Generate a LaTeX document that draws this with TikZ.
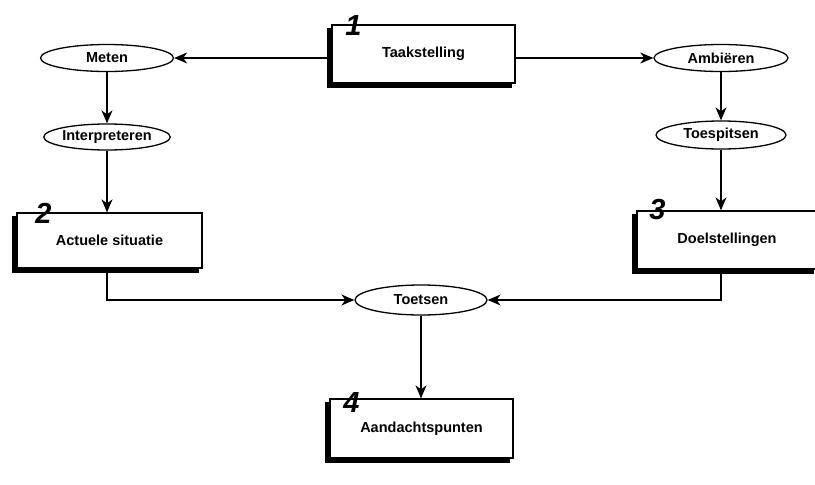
\documentclass[tikz,border=0pt]{standalone}
\usepackage{fontspec}
\setmainfont{Liberation Sans}
\usepackage{tikz}
\usetikzlibrary{arrows.meta,positioning,shapes.geometric,shadows}

\begin{document}
\begin{tikzpicture}[
  x=1pt, y=-1pt,
  stage/.style={rectangle, draw, line width=1.3pt, fill=white, minimum width=183pt, minimum height=58pt, inner sep=0pt,
    font=\fontsize{14.5}{16}\selectfont\bfseries,
    copy shadow={shadow xshift=-4pt, shadow yshift=-4pt, fill=black, draw=black}},
  action/.style={ellipse, draw, line width=1.3pt, fill=white, inner sep=0pt, font=\fontsize{14.5}{16}\selectfont\bfseries},
  stagenum/.style={font=\fontsize{29}{29}\selectfont\itshape\bfseries, inner sep=0pt},
  arrow/.style={-{Stealth[length=13pt, width=11pt, inset=4pt]}, line width=1.3pt}
]
\clip (0,0) rectangle (815,485);
\fill[white] (0,0) rectangle (815,485);

% stages
\node[stage] (task) at (423.5,54) {Taakstelling};
\node[stage, minimum width=185pt, minimum height=55pt] (situation) at (109.5,240.5) {Actuele situatie};
\node[stage, minimum width=180pt] (goals) at (727,240) {Doelstellingen};
\node[stage, minimum height=59pt] (focus) at (421.5,428.5) {Aandachtspunten};

\node[stagenum] (num1) at ([xshift=22pt, yshift=-1pt]task.north west) {1};
\node[stagenum] (num2) at ([xshift=27pt, yshift=-1pt]situation.north west) {2};
\node[stagenum] (num3) at ([xshift=21pt, yshift=1pt]goals.north west) {3};
\node[stagenum] (num4) at ([xshift=22pt, yshift=-4pt]focus.north west) {4};

% actions
\node[action, minimum width=133pt, minimum height=27pt] (measure) at (107,58) {Meten};
\node[action, minimum width=120pt, minimum height=26pt] (interpret) at (107,137) {Interpreteren};
\node[action, minimum width=134pt, minimum height=27pt] (ambition) at (721,58) {Ambiëren};
\node[action, minimum width=130pt, minimum height=28pt] (sharpen) at (721,135) {Toespitsen};
\node[action, minimum width=132pt, minimum height=30pt] (test) at (421,300) {Toetsen};

% connectors
\draw[arrow] (task.west |- measure) -- (measure);
\draw[arrow] (task.east |- ambition) -- (ambition);
\draw[arrow] (measure) -- (interpret);
\draw[arrow] (interpret) -- (interpret |- situation.north);
\draw[arrow] (ambition) -- (sharpen);
\draw[arrow] (sharpen) -- (sharpen |- goals.north);
\draw[arrow] (situation.south -| interpret) |- (test);
\draw[arrow] (goals.south -| sharpen) |- (test);
\draw[arrow] (test) -- (test |- focus.north);
\end{tikzpicture}
\end{document}
